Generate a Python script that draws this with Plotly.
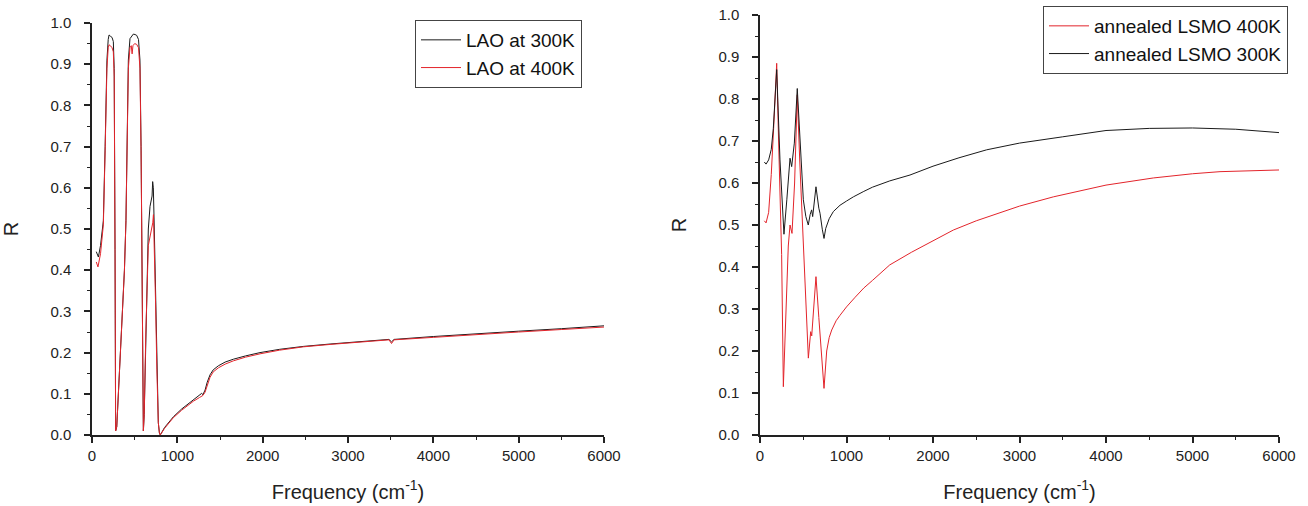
import plotly.graph_objects as go

# ---------------- Left panel: LAO ----------------
lao300_freq = [50, 62, 75, 100, 133, 154, 175, 190, 200, 215, 235, 250, 260, 270, 277,
               290, 320, 349, 380, 398, 412, 426, 445, 465, 484, 505, 524, 545, 562, 575,
               582, 595, 602, 612, 630, 660, 680, 692, 704, 711, 719, 730, 745, 760, 777,
               790, 800, 850, 914, 953, 1050, 1188, 1260, 1285, 1300, 1325, 1350, 1383,
               1420, 1481, 1560, 1657, 1800, 1969, 2200, 2477, 2800, 3141, 3480, 3510,
               3540, 4000, 4500, 5000, 5500, 6000]
lao300_R = [0.445, 0.44, 0.432, 0.46, 0.52, 0.70, 0.91, 0.96, 0.971, 0.968, 0.965, 0.955,
            0.89, 0.45, 0.01,
            0.02, 0.15, 0.28, 0.40, 0.52, 0.70, 0.91, 0.962, 0.968, 0.973, 0.972, 0.970,
            0.96, 0.91, 0.70,
            0.52, 0.20, 0.01, 0.05, 0.25, 0.50, 0.555, 0.565, 0.58, 0.615, 0.60, 0.50,
            0.33, 0.17, 0.03,
            0.005, 0.0, 0.018, 0.036, 0.044, 0.063, 0.085, 0.095, 0.101, 0.098, 0.109,
            0.128, 0.146, 0.158, 0.168, 0.177, 0.184, 0.192, 0.200, 0.208, 0.215,
            0.221, 0.227, 0.232, 0.226, 0.232, 0.239, 0.246, 0.252, 0.258, 0.265]

lao400_freq = [50, 62, 70, 100, 133, 154, 175, 190, 200, 215, 235, 250, 260, 270, 277,
               290, 320, 349, 380, 398, 412, 426, 445, 460, 470, 480, 500, 524, 545, 562,
               575, 582, 595, 602, 612, 630, 660, 680, 692, 704, 712, 720, 730, 745, 760,
               777, 790, 800, 850, 914, 953, 1050, 1188, 1260, 1285, 1300, 1325, 1350,
               1383, 1420, 1481, 1560, 1657, 1800, 1969, 2200, 2477, 2800, 3141, 3480,
               3510, 3540, 4000, 4500, 5000, 5500, 6000]
lao400_R = [0.42, 0.412, 0.408, 0.44, 0.51, 0.69, 0.89, 0.94, 0.947, 0.945, 0.94, 0.93,
            0.87, 0.44, 0.01,
            0.02, 0.15, 0.28, 0.40, 0.52, 0.69, 0.89, 0.94, 0.945, 0.925, 0.945, 0.95,
            0.948, 0.94, 0.89,
            0.69, 0.51, 0.19, 0.01, 0.05, 0.24, 0.46, 0.48, 0.49, 0.50, 0.515, 0.535,
            0.47, 0.32, 0.16,
            0.03, 0.005, 0.0, 0.016, 0.034, 0.042, 0.060, 0.082, 0.091, 0.094, 0.096,
            0.104, 0.122, 0.140, 0.153, 0.163, 0.172, 0.180, 0.189, 0.197, 0.206,
            0.214, 0.220, 0.226, 0.231, 0.222, 0.231, 0.237, 0.244, 0.250, 0.256, 0.262]

# ---------------- Right panel: annealed LSMO ----------------
lsmo400_freq = [50, 70, 100, 130, 160, 193, 215, 231, 250, 270, 290, 308, 327, 347, 370,
                400, 431, 460, 501, 540, 559, 586, 598, 620, 647, 680, 694, 720, 740, 771,
                800, 829, 848, 880, 925, 1000, 1100, 1200, 1300, 1387, 1500, 1750, 2000,
                2235, 2500, 2750, 3000, 3391, 3700, 4000, 4547, 5000, 5318, 5700, 6000]
lsmo400_R = [0.51, 0.505, 0.53, 0.62, 0.74, 0.885, 0.70, 0.575, 0.43, 0.115, 0.25, 0.36,
             0.45, 0.50, 0.48,
             0.60, 0.81, 0.65, 0.44, 0.28, 0.183, 0.246, 0.236, 0.30, 0.377, 0.28, 0.242,
             0.16, 0.111, 0.20,
             0.232, 0.25, 0.26, 0.272, 0.285, 0.305, 0.328, 0.35, 0.368, 0.385, 0.405,
             0.435, 0.462, 0.488, 0.51, 0.528, 0.545, 0.567, 0.582, 0.595, 0.612, 0.622,
             0.627, 0.630, 0.631]

lsmo300_freq = [50, 70, 100, 130, 154, 193, 231, 250, 277, 310, 347, 366, 397, 431, 462,
                501, 530, 558, 580, 597, 609, 630, 647, 680, 694, 720, 740, 760, 780, 800,
                848, 925, 1000, 1079, 1200, 1300, 1500, 1734, 2000, 2300, 2620, 3000, 3500,
                4000, 4500, 5000, 5500, 6000]
lsmo300_R = [0.65, 0.645, 0.655, 0.68, 0.73, 0.87, 0.655, 0.575, 0.478, 0.56, 0.659,
             0.639, 0.695, 0.825, 0.695,
             0.56, 0.52, 0.50, 0.525, 0.536, 0.52, 0.56, 0.591, 0.54, 0.528, 0.49, 0.468,
             0.492, 0.505, 0.515,
             0.532, 0.547, 0.557, 0.567, 0.58, 0.59, 0.605, 0.619, 0.64, 0.66, 0.679,
             0.695, 0.71, 0.725, 0.73, 0.731, 0.728, 0.72]

x_ticks = [0, 1000, 2000, 3000, 4000, 5000, 6000]
y_ticks = [0.0, 0.1, 0.2, 0.3, 0.4, 0.5, 0.6, 0.7, 0.8, 0.9, 1.0]
y_tick_text = [f"{v:.1f}" for v in y_ticks]

BLACK = "#1a1a1a"
RED = "#e3242b"
W, H = 1308, 506


def px_x(p):
    return p / W


def px_y(p):
    return (H - p) / H


fig = go.Figure()
fig.add_trace(go.Scatter(x=lao300_freq, y=lao300_R, mode="lines", name="LAO at 300K",
                         line=dict(color=BLACK, width=1), xaxis="x", yaxis="y",
                         legend="legend"))
fig.add_trace(go.Scatter(x=lao400_freq, y=lao400_R, mode="lines", name="LAO at 400K",
                         line=dict(color=RED, width=1), xaxis="x", yaxis="y",
                         legend="legend"))
fig.add_trace(go.Scatter(x=lsmo400_freq, y=lsmo400_R, mode="lines",
                         name="annealed LSMO 400K",
                         line=dict(color=RED, width=1), xaxis="x2", yaxis="y2",
                         legend="legend2"))
fig.add_trace(go.Scatter(x=lsmo300_freq, y=lsmo300_R, mode="lines",
                         name="annealed LSMO 300K",
                         line=dict(color=BLACK, width=1), xaxis="x2", yaxis="y2",
                         legend="legend2"))

FONT = "Liberation Sans, Arial, sans-serif"
tickfont = dict(family=FONT, size=15, color="#222")
titlefont = dict(family=FONT, size=20, color="#222")


def xaxis(domain, anchor):
    return dict(domain=domain, anchor=anchor, range=[0, 6000], tickvals=x_ticks,
                automargin=False, ticklabeloverflow="allow",
                showgrid=False, zeroline=False, showline=True, linecolor="#222",
                linewidth=1.5, ticks="outside", ticklen=6, tickwidth=1.5,
                tickcolor="#222", tickfont=tickfont, ticklabelstandoff=0,
                minor=dict(dtick=500, ticks="outside", ticklen=3, tickcolor="#222",
                           tickwidth=1, showgrid=False),
                title=dict(text="Frequency (cm<sup>-1</sup>)", font=titlefont,
                           standoff=22))


def yaxis(domain, anchor):
    return dict(domain=domain, anchor=anchor, range=[0, 1.0], tickvals=y_ticks,
                automargin=False, ticklabeloverflow="allow",
                ticktext=y_tick_text, showgrid=False, zeroline=False, showline=True,
                linecolor="#222", linewidth=1.5, ticks="outside", ticklen=6,
                tickwidth=1.5, tickcolor="#222", tickfont=tickfont,
                ticklabelstandoff=10,
                minor=dict(dtick=0.05, ticks="outside", ticklen=3, tickcolor="#222",
                           tickwidth=1, showgrid=False),
                title=dict(text="R", font=titlefont, standoff=26))


fig.update_layout(
    width=W, height=H,
    margin=dict(l=0, r=0, t=0, b=0, autoexpand=False),
    paper_bgcolor="white", plot_bgcolor="white",
    xaxis=xaxis([px_x(92), px_x(604)], "y"),
    yaxis=yaxis([px_y(435), px_y(23)], "x"),
    xaxis2=xaxis([px_x(760), px_x(1279)], "y2"),
    yaxis2=yaxis([px_y(435), px_y(15)], "x2"),
    legend=dict(x=px_x(582), y=px_y(20), xanchor="right", yanchor="top",
                bgcolor="white", bordercolor="#444", borderwidth=1,
                font=dict(family=FONT, size=19, color="#111"),
                tracegroupgap=0, itemwidth=40),
    legend2=dict(x=px_x(1288), y=px_y(6), xanchor="right", yanchor="top",
                 bgcolor="white", bordercolor="#444", borderwidth=1,
                 font=dict(family=FONT, size=19, color="#111"),
                 tracegroupgap=0, itemwidth=40),
    showlegend=True,
)

fig.write_html("out.html",
               config={"displayModeBar": False},
               post_script="document.body.style.margin='0px';"
                           "document.body.style.overflow='hidden';")
